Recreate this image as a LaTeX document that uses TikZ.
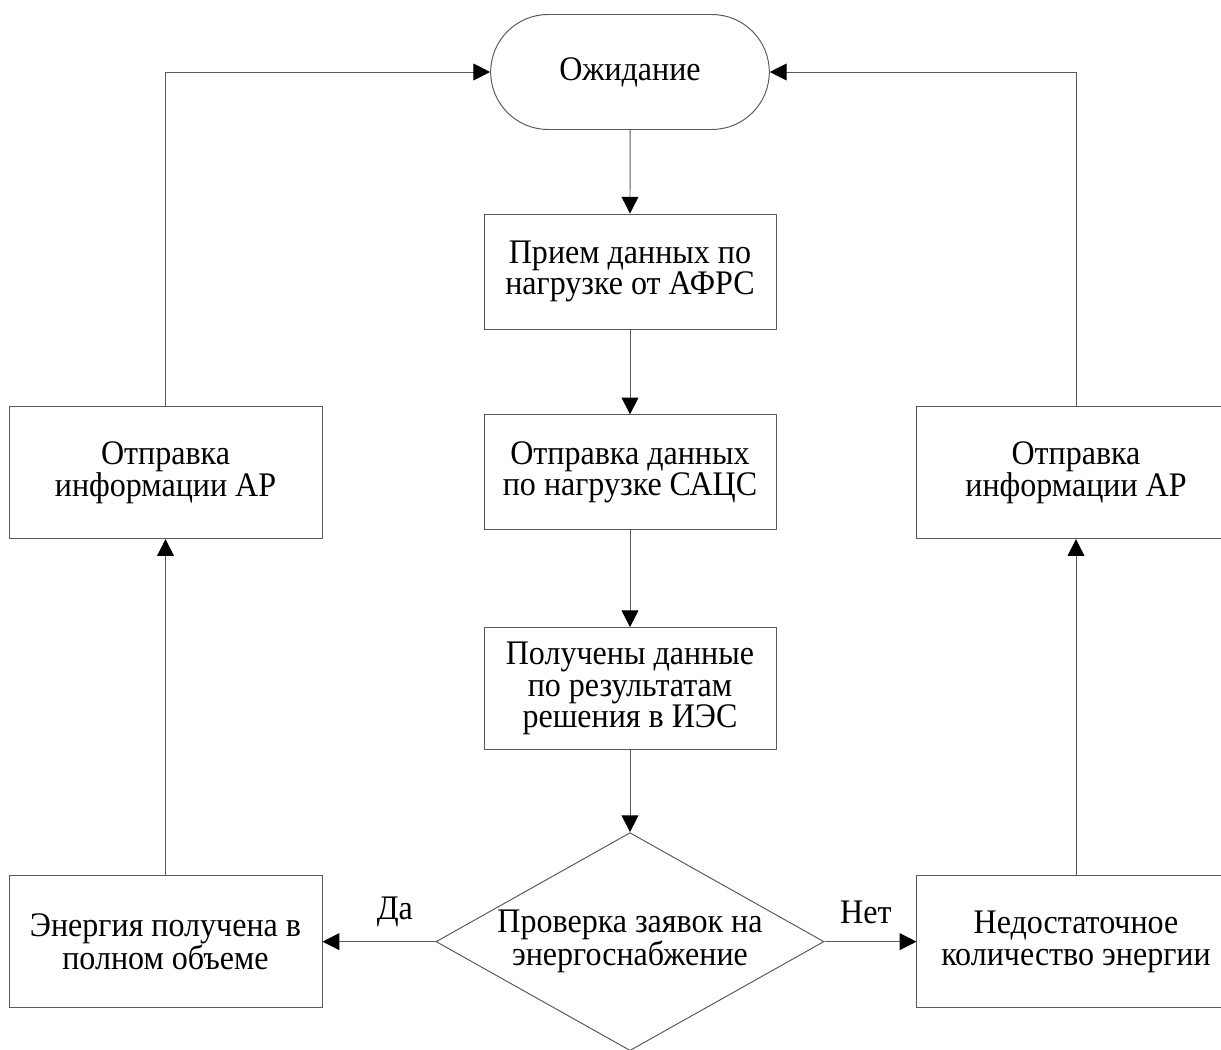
\documentclass[tikz,border=0pt]{standalone}
\usepackage{fontspec}
\setmainfont{Liberation Serif}[FakeStretch=0.93]
\usetikzlibrary{shapes.geometric,shapes.misc,arrows.meta,positioning}
\definecolor{LineGray}{HTML}{5A5A5A}
\newcommand{\flowfont}{\fontsize{24.5pt}{22.5pt}\selectfont}
\tikzset{
  waitbox/.style={rounded rectangle,draw=LineGray,line width=0.7pt,minimum width=7.2cm,minimum height=2.875cm,align=center,font=\flowfont},
  process/.style={rectangle,draw=LineGray,line width=0.7pt,minimum width=7.3cm,minimum height=2.875cm,align=center,font=\flowfont},
  sidebox/.style={rectangle,draw=LineGray,line width=0.7pt,minimum width=7.825cm,minimum height=3.3cm,align=center,font=\flowfont},
  decision/.style={diamond,draw=LineGray,line width=0.7pt,aspect=1.78,minimum width=9.7cm,minimum height=5.45cm,inner sep=0pt,align=center,font=\flowfont},
  arrow/.style={-{Triangle[length=0.42cm,width=0.42cm,color=black]},line width=0.7pt,color=LineGray},
  answer/.style={anchor=base,font=\flowfont,text=black},
}

\begin{document}
\begin{tikzpicture}
  \useasboundingbox (0,0) rectangle (30.525,-26.25);
  \node[waitbox] (wait) at (15.75,-1.8) {Ожидание};
  \node[process, below=2.09cm of wait] (receive) {Прием данных по\\нагрузке от АФРС};
  \node[process, below=2.12cm of receive] (send) {Отправка данных\\по нагрузке САЦС};
  \node[process, minimum height=3.05cm, below=2.42cm of send] (result) {Получены данные\\по результатам\\решения в ИЭС};
  \node[decision, below=2.05cm of result] (check) {Проверка заявок на\\энергоснабжение};
  \node[sidebox, left=2.825cm of check] (full) {Энергия получена в\\полном объеме};
  \node[sidebox, minimum width=7.95cm, right=2.3cm of check] (lack) {Недостаточное\\количество энергии};
  \node[sidebox, above=8.4cm of full] (infoleft) {Отправка\\информации АР};
  \node[sidebox, minimum width=7.95cm, above=8.4cm of lack] (inforight) {Отправка\\информации АР};

  \draw[arrow] (wait) -- (receive);
  \draw[arrow] (receive) -- (send);
  \draw[arrow] (send) -- (result);
  \draw[arrow] (result) -- (check);
  \draw[arrow] (check) -- node[answer, pos=0.36, yshift=0.55cm] {Да} (full);
  \draw[arrow] (check) -- node[answer, pos=0.45, yshift=0.45cm] {Нет} (lack);
  \draw[arrow] (full) -- (infoleft);
  \draw[arrow] (lack) -- (inforight);
  \draw[arrow] (infoleft.north) |- (wait.west);
  \draw[arrow] (inforight.north) |- (wait.east);
\end{tikzpicture}
\end{document}
